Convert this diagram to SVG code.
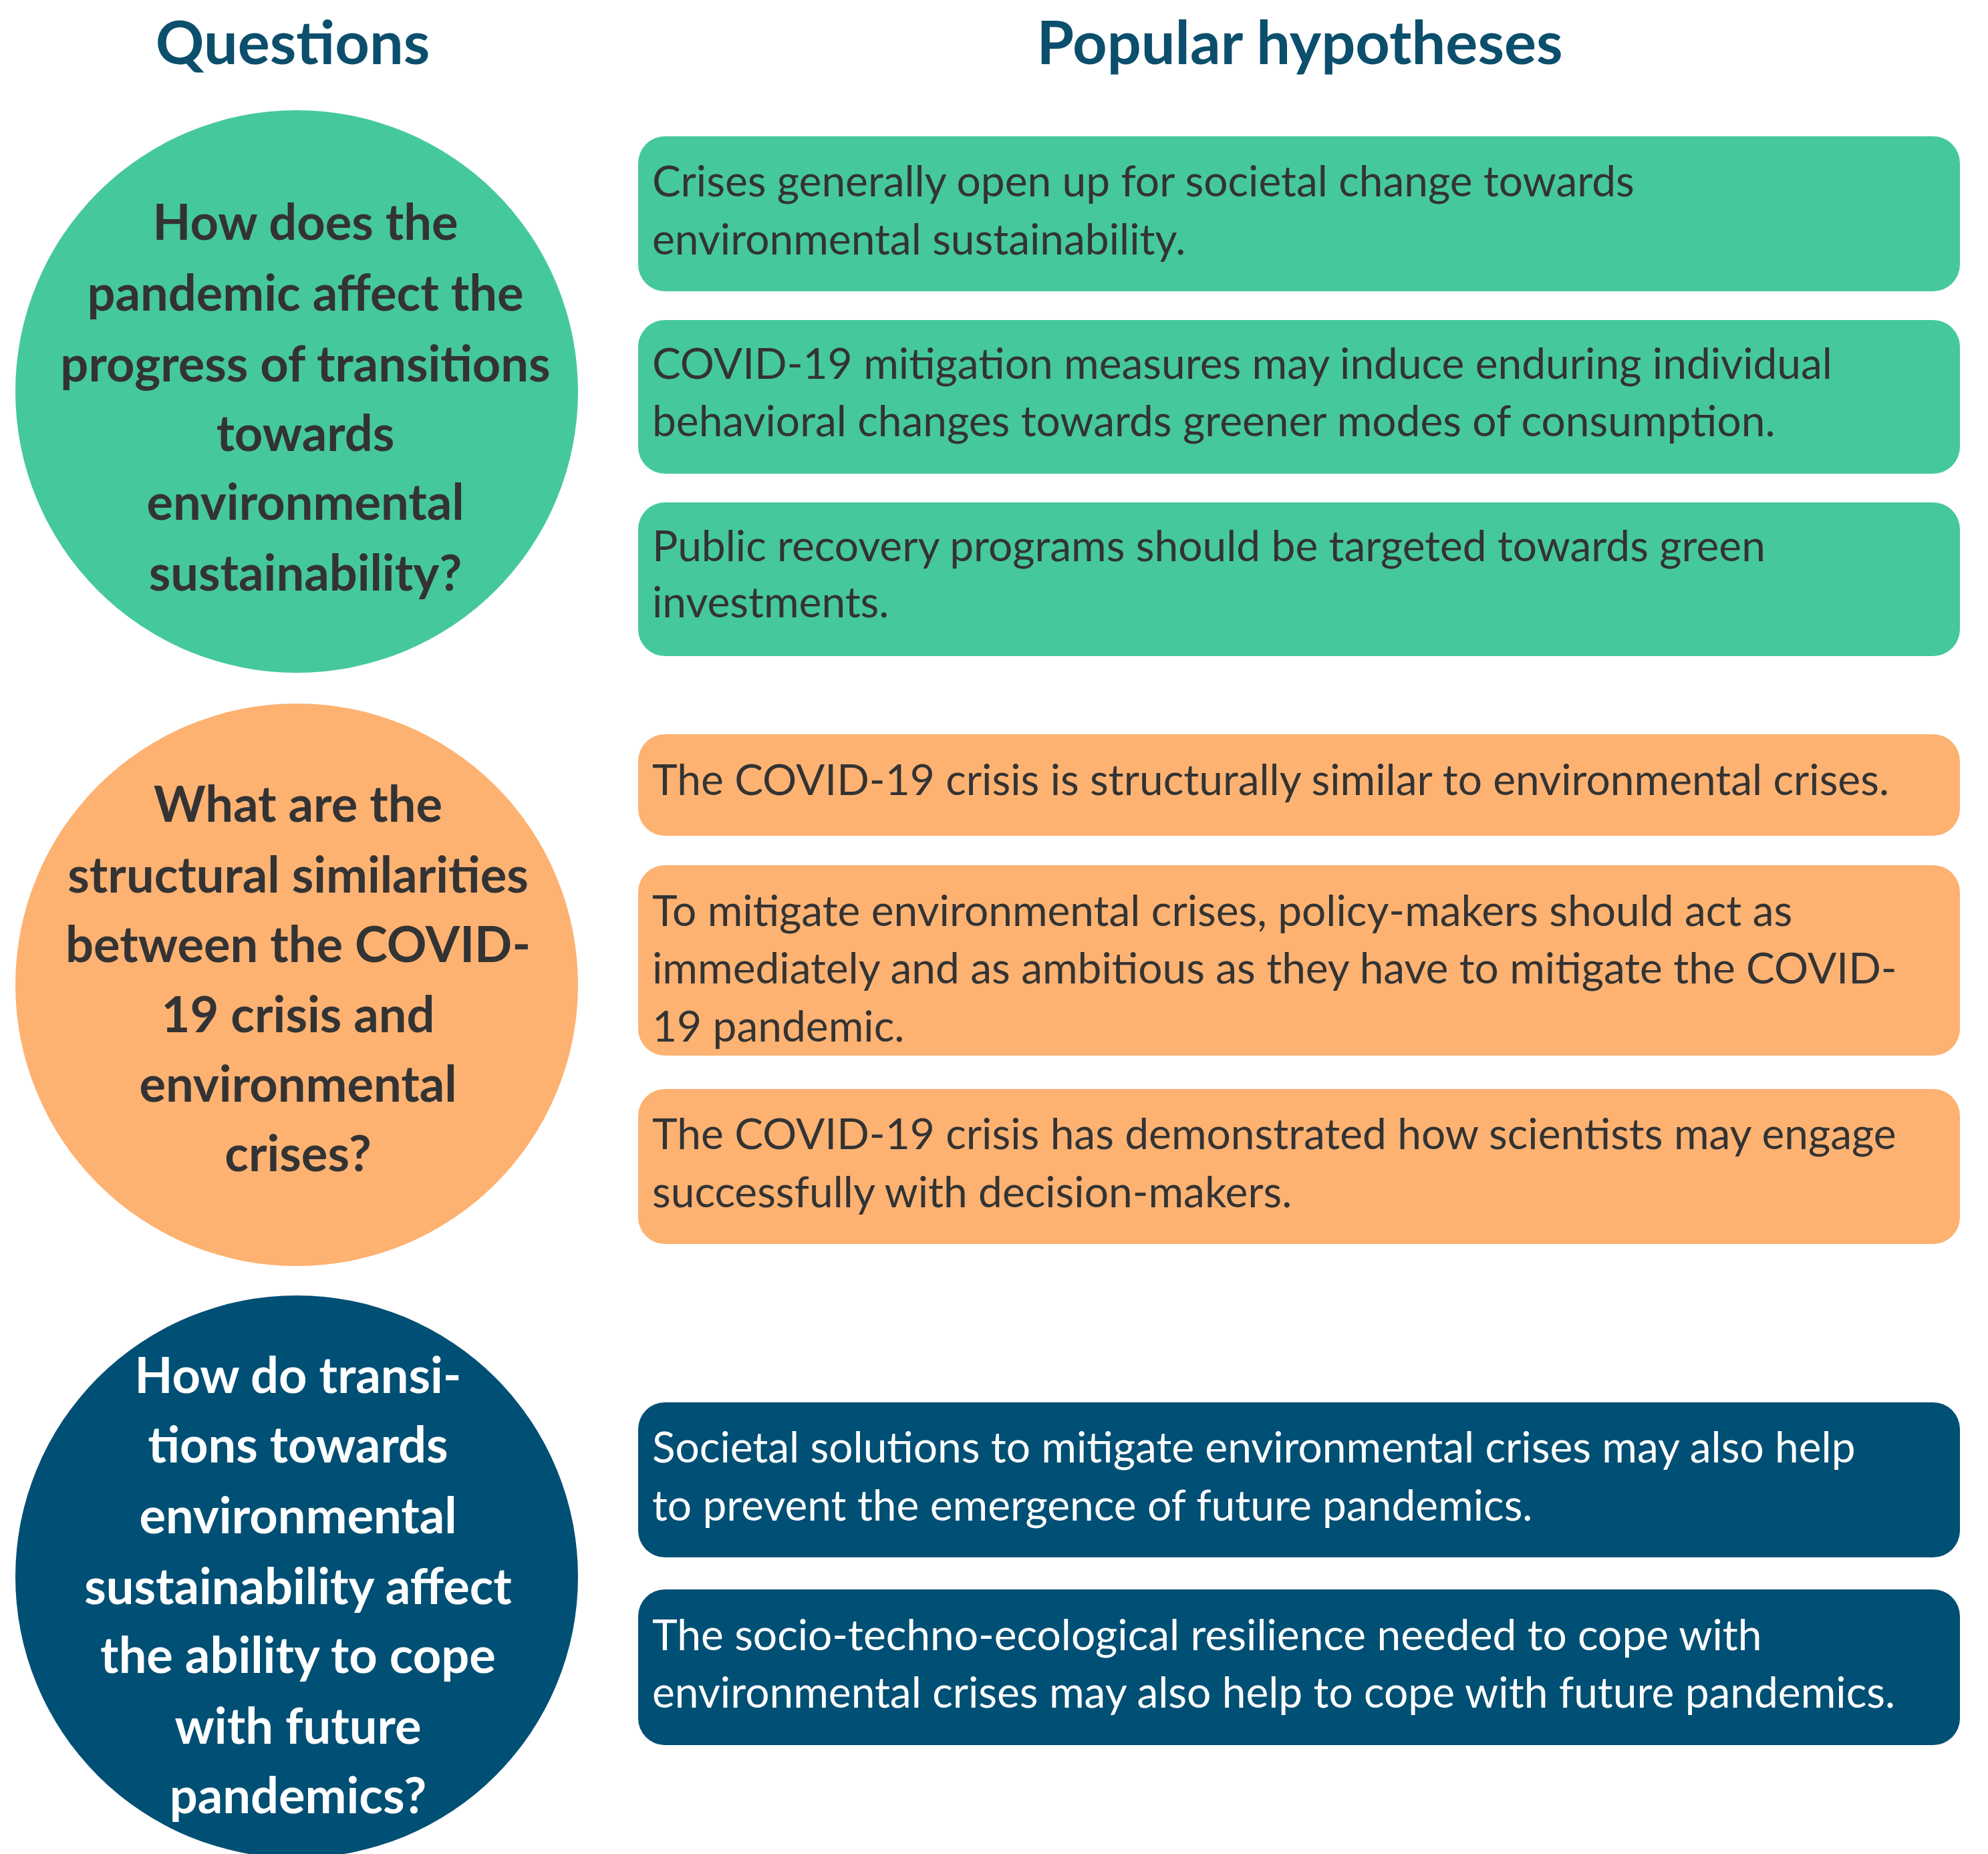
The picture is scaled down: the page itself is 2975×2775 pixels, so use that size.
<svg xmlns="http://www.w3.org/2000/svg" width="2975" height="2775" viewBox="0 0 2975 2775">
<style>
.t{font-family:Lato,"Liberation Sans",sans-serif;font-weight:bold;font-size:90px;fill:#0b4f6c;text-anchor:middle}
.q{font-family:Lato,"Liberation Sans",sans-serif;font-weight:bold;font-size:74px;text-anchor:middle}
.h{font-family:Lato,"Liberation Sans",sans-serif;font-size:64px}
.g{fill:#45c89d}.o{fill:#fdb272}.b{fill:#004f74}
.dk{fill:#333}.wh{fill:#fff}
</style>
<rect width="2975" height="2775" fill="#fff"/>
<text class="t" x="438" y="96">Questions</text>
<text class="t" x="1945" y="96">Popular hypotheses</text>
<g id="q1"><circle class="g" cx="444" cy="586" r="421"/>
<text class="q dk"><tspan x="457" y="359">How does the</tspan><tspan x="457" y="465">pandemic affect the</tspan><tspan x="457" y="571">progress of transitions</tspan><tspan x="457" y="675">towards</tspan><tspan x="457" y="778">environmental</tspan><tspan x="457" y="884">sustainability?</tspan></text></g>
<g id="q2"><circle class="o" cx="444" cy="1474" r="421"/>
<text class="q dk"><tspan x="446" y="1230">What are the</tspan><tspan x="446" y="1336">structural similarities</tspan><tspan x="446" y="1440">between the COVID-</tspan><tspan x="446" y="1545">19 crisis and</tspan><tspan x="446" y="1649">environmental</tspan><tspan x="446" y="1753">crises?</tspan></text></g>
<g id="q3"><circle class="b" cx="444" cy="2360" r="421"/>
<text class="q wh"><tspan x="446" y="2085">How do transi-</tspan><tspan x="446" y="2189">tions towards</tspan><tspan x="446" y="2295">environmental</tspan><tspan x="446" y="2401">sustainability affect</tspan><tspan x="446" y="2504">the ability to cope</tspan><tspan x="446" y="2610">with future</tspan><tspan x="446" y="2714">pandemics?</tspan></text></g>
<g id="h1"><rect class="g" x="955" y="204" width="1978" height="232" rx="40"/><text class="h dk"><tspan x="976" y="294">Crises generally open up for societal change towards</tspan><tspan x="976" y="381">environmental sustainability.</tspan></text></g>
<g id="h2"><rect class="g" x="955" y="479" width="1978" height="230" rx="40"/><text class="h dk"><tspan x="976" y="567">COVID-19 mitigation measures may induce enduring individual</tspan><tspan x="976" y="653">behavioral changes towards greener modes of consumption.</tspan></text></g>
<g id="h3"><rect class="g" x="955" y="752" width="1978" height="230" rx="40"/><text class="h dk"><tspan x="976" y="840">Public recovery programs should be targeted towards green</tspan><tspan x="976" y="924">investments.</tspan></text></g>
<g id="h4"><rect class="o" x="955" y="1099" width="1978" height="152" rx="40"/><text class="h dk"><tspan x="976" y="1190">The COVID-19 crisis is structurally similar to environmental crises.</tspan></text></g>
<g id="h5"><rect class="o" x="955" y="1295" width="1978" height="285" rx="40"/><text class="h dk"><tspan x="976" y="1386">To mitigate environmental crises, policy-makers should act as</tspan><tspan x="976" y="1472">immediately and as ambitious as they have to mitigate the COVID-</tspan><tspan x="976" y="1559">19 pandemic.</tspan></text></g>
<g id="h6"><rect class="o" x="955" y="1630" width="1978" height="232" rx="40"/><text class="h dk"><tspan x="976" y="1720">The COVID-19 crisis has demonstrated how scientists may engage</tspan><tspan x="976" y="1807">successfully with decision-makers.</tspan></text></g>
<g id="h7"><rect class="b" x="955" y="2099" width="1978" height="232" rx="40"/><text class="h wh"><tspan x="976" y="2189">Societal solutions to mitigate environmental crises may also help</tspan><tspan x="976" y="2276">to prevent the emergence of future pandemics.</tspan></text></g>
<g id="h8"><rect class="b" x="955" y="2379" width="1978" height="233" rx="40"/><text class="h wh"><tspan x="976" y="2470">The socio-techno-ecological resilience needed to cope with</tspan><tspan x="976" y="2556">environmental crises may also help to cope with future pandemics.</tspan></text></g>
<g id="connectors"/>
</svg>
